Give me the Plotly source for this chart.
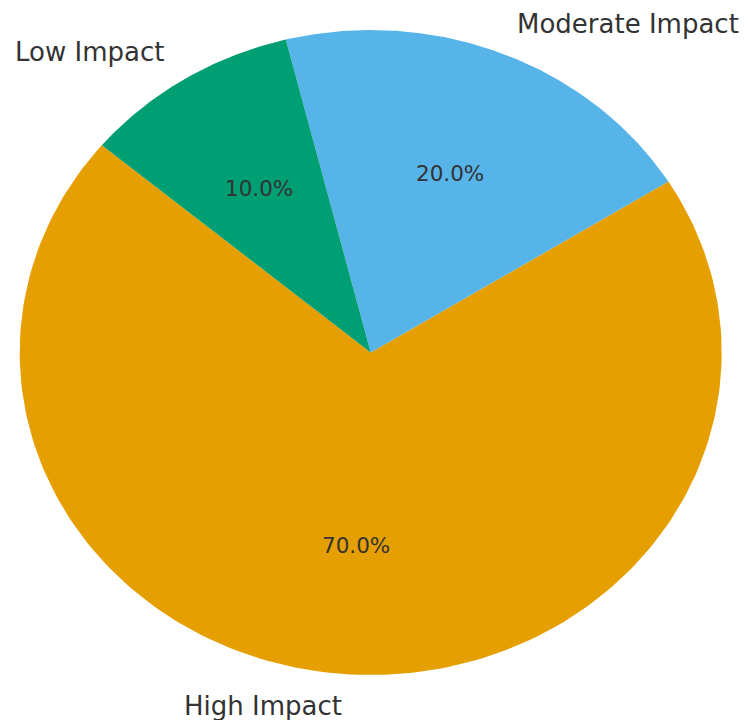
import numpy as np
import plotly.graph_objects as go

labels = ["High Impact", "Moderate Impact", "Low Impact"]
values = [70, 20, 10]
colors = ["#E69F00", "#56B4E9", "#009E73"]
start_angle = 140.0

total = float(sum(values))
fig = go.Figure()
annotations = []
theta0 = start_angle
for lab, val, col in zip(labels, values, colors):
    span = 360.0 * val / total
    th = np.radians(np.linspace(theta0, theta0 + span, 200))
    xs = np.concatenate([[0.0], np.cos(th), [0.0]])
    ys = np.concatenate([[0.0], np.sin(th), [0.0]])
    fig.add_trace(go.Scatter(x=xs, y=ys, fill="toself", fillcolor=col,
                             mode="lines", line=dict(width=0, color=col),
                             hoverinfo="text", text=f"{lab}: {val}", name=lab,
                             showlegend=False))
    mid = np.radians(theta0 + span / 2.0)
    lx, ly = 1.1 * np.cos(mid), 1.1 * np.sin(mid)
    annotations.append(dict(x=lx, y=ly, xref="x", yref="y", text=lab,
                            showarrow=False,
                            xanchor="left" if lx > 0 else "right",
                            yanchor="middle",
                            font=dict(family="DejaVu Sans", size=26, color="#333333")))
    px_, py_ = 0.6 * np.cos(mid), 0.6 * np.sin(mid)
    annotations.append(dict(x=px_, y=py_, xref="x", yref="y",
                            text=f"{100.0 * val / total:.1f}%",
                            showarrow=False, xanchor="center", yanchor="middle",
                            font=dict(family="DejaVu Sans", size=21.5, color="#333333")))
    theta0 += span

fig.update_layout(
    width=748, height=720,
    margin=dict(l=0, r=0, t=0, b=0),
    paper_bgcolor="white", plot_bgcolor="white",
    xaxis=dict(range=[-1.0561, 1.0749], visible=False, fixedrange=True),
    yaxis=dict(range=[-1.1395, 1.093], visible=False, fixedrange=True),
    annotations=annotations,
    showlegend=False,
)
fig.write_html("out.html")
